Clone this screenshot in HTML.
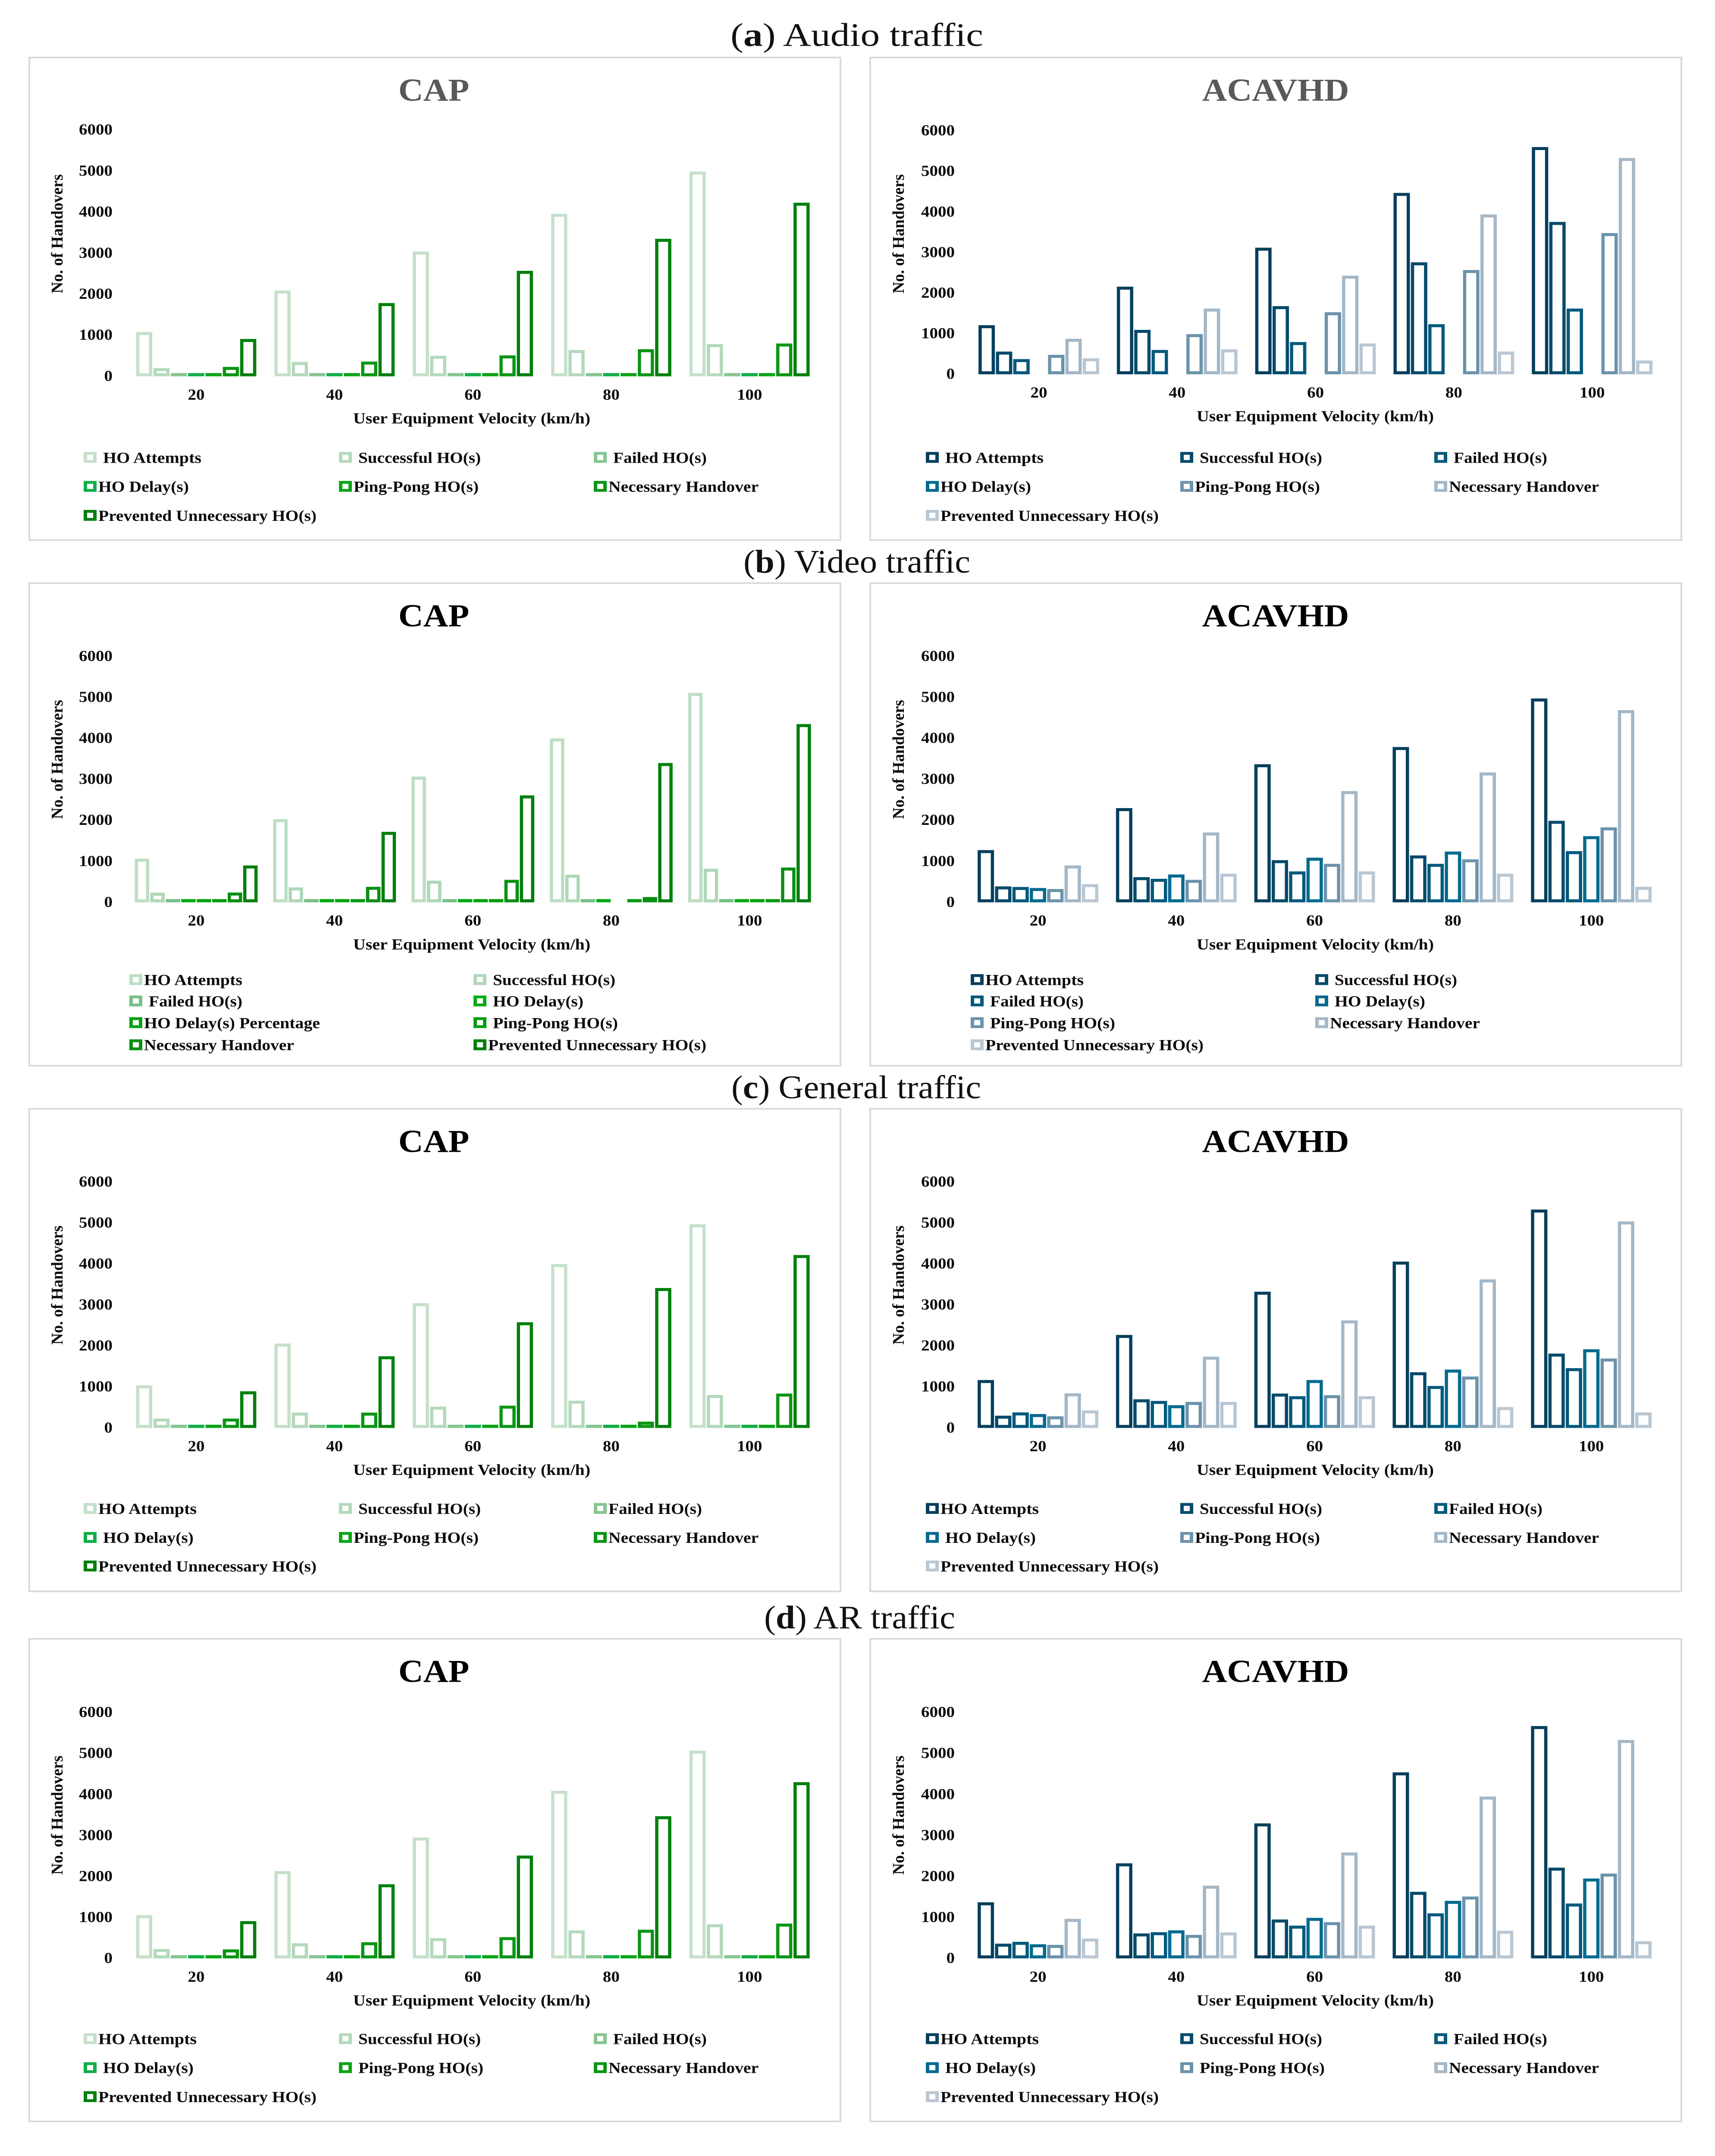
<!DOCTYPE html>
<html lang="en">
<head>
<meta charset="utf-8">
<title>Handover comparison by traffic type</title>
<style>
html,body{margin:0;padding:0;background:#fff;width:3977px;height:5357px;overflow:hidden;}
svg{display:block;width:3977px;height:5357px;overflow:hidden;}
text{font-family:"Liberation Serif",serif;}
.cap{font-size:82px;fill:#111;}
.ttl{font-size:80px;font-weight:bold;text-anchor:middle;}
.tick{font-size:39px;font-weight:bold;fill:#0c0c0c;}
.axt{font-size:38px;font-weight:bold;fill:#0c0c0c;}
.leg{font-size:38px;font-weight:bold;fill:#0c0c0c;}
</style>
</head>
<body>
<svg id="figure" xmlns="http://www.w3.org/2000/svg" width="3977" height="5357" viewBox="0 0 3977 5357" preserveAspectRatio="none">
<rect x="0" y="0" width="3977" height="5357" fill="#ffffff"/>
<text class="cap" x="1694" y="114" textLength="586" lengthAdjust="spacingAndGlyphs">(<tspan font-weight="bold">a</tspan>) Audio traffic</text>
<text class="cap" x="1724" y="1423" textLength="526" lengthAdjust="spacingAndGlyphs">(<tspan font-weight="bold">b</tspan>) Video traffic</text>
<text class="cap" x="1696" y="2729" textLength="579" lengthAdjust="spacingAndGlyphs">(<tspan font-weight="bold">c</tspan>) General traffic</text>
<text class="cap" x="1772" y="4046" textLength="443" lengthAdjust="spacingAndGlyphs">(<tspan font-weight="bold">d</tspan>) AR traffic</text>
</svg>
<script>
const categories = ['20', '40', '60', '80', '100'];
const yTickLabels = [0, 1000, 2000, 3000, 4000, 5000, 6000];
const yMax = 6000;

const audioCapAttempts = [1040, 2050, 3000, 3920, 4950];
const audioCapSuccessful = [160, 310, 460, 600, 745];
const audioCapFailed = [35, 35, 35, 35, 35];
const audioCapDelay = [35, 35, 35, 35, 35];
const audioCapPingPong = [35, 35, 35, 35, 35];
const audioCapNecessary = [190, 320, 470, 620, 760];
const audioCapPrevented = [870, 1745, 2530, 3310, 4190];

const audioAcaAttempts = [1170, 2120, 3080, 4430, 5560];
const audioAcaSuccessful = [520, 1055, 1640, 2720, 3715];
const audioAcaFailed = [335, 560, 755, 1195, 1580];
const audioAcaDelay = [null, null, null, null, null];
const audioAcaPingPong = [440, 950, 1490, 2530, 3440];
const audioAcaNecessary = [835, 1580, 2390, 3900, 5290];
const audioAcaPrevented = [355, 575, 720, 520, 300];

const videoCapAttempts = [1025, 1990, 3030, 3960, 5070];
const videoCapSuccessful = [195, 325, 490, 635, 780];
const videoCapFailed = [40, 40, 40, 40, 40];
const videoCapDelay = [40, 40, 40, 40, 40];
const videoCapDelayPct = [40, 40, 40, null, 40];
const videoCapPingPong = [40, 40, 40, 40, 40];
const videoCapNecessary = [200, 340, 510, 90, 810];
const videoCapPrevented = [860, 1680, 2570, 3360, 4310];

const videoAcaAttempts = [1235, 2260, 3330, 3750, 4935];
const videoAcaSuccessful = [350, 575, 990, 1105, 1950];
const videoAcaFailed = [335, 535, 715, 900, 1210];
const videoAcaDelay = [310, 640, 1050, 1200, 1575];
const videoAcaPingPong = [285, 510, 900, 1010, 1790];
const videoAcaNecessary = [860, 1665, 2675, 3130, 4650];
const videoAcaPrevented = [405, 660, 715, 660, 340];

const generalCapAttempts = [1000, 2020, 3005, 3960, 4930];
const generalCapSuccessful = [190, 335, 480, 625, 765];
const generalCapFailed = [35, 35, 35, 35, 35];
const generalCapDelay = [35, 35, 35, 35, 35];
const generalCapPingPong = [35, 35, 35, 35, 35];
const generalCapNecessary = [190, 335, 505, 115, 800];
const generalCapPrevented = [855, 1710, 2540, 3375, 4180];

const generalAcaAttempts = [1130, 2230, 3285, 4020, 5290];
const generalAcaSuccessful = [260, 660, 800, 1320, 1775];
const generalAcaFailed = [340, 620, 735, 985, 1420];
const generalAcaDelay = [300, 515, 1130, 1385, 1880];
const generalAcaPingPong = [245, 595, 760, 1215, 1655];
const generalAcaNecessary = [805, 1700, 2585, 3585, 5000];
const generalAcaPrevented = [390, 595, 735, 470, 340];

const arCapAttempts = [1015, 2090, 2910, 4050, 5030];
const arCapSuccessful = [190, 330, 455, 645, 795];
const arCapFailed = [35, 35, 35, 35, 35];
const arCapDelay = [35, 35, 35, 35, 35];
const arCapPingPong = [35, 35, 35, 35, 35];
const arCapNecessary = [180, 355, 480, 660, 810];
const arCapPrevented = [870, 1770, 2470, 3430, 4260];

const arAcaAttempts = [1330, 2280, 3255, 4500, 5630];
const arAcaSuccessful = [320, 570, 910, 1585, 2175];
const arAcaFailed = [365, 600, 760, 1060, 1300];
const arAcaDelay = [305, 645, 950, 1365, 1910];
const arAcaPingPong = [290, 535, 845, 1470, 2030];
const arAcaNecessary = [925, 1735, 2545, 3910, 5290];
const arAcaPrevented = [445, 595, 760, 635, 380];

const NAMES7 = ['HO Attempts', 'Successful HO(s)', 'Failed HO(s)', 'HO Delay(s)', 'Ping-Pong HO(s)', 'Necessary Handover', 'Prevented Unnecessary HO(s)'];
const NAMES8 = ['HO Attempts', 'Successful HO(s)', 'Failed HO(s)', 'HO Delay(s)', 'HO Delay(s) Percentage', 'Ping-Pong HO(s)', 'Necessary Handover', 'Prevented Unnecessary HO(s)'];
const LABEL_WIDTH = {
  'HO Attempts': 228, 'Successful HO(s)': 284, 'Failed HO(s)': 217, 'HO Delay(s)': 210,
  'HO Delay(s) Percentage': 408, 'Ping-Pong HO(s)': 290, 'Necessary Handover': 348,
  'Prevented Unnecessary HO(s)': 506
};
const GREENS7 = ['#c5e0ca', '#b3d9bc', '#86c592', '#0fae47', '#0aa516', '#0a9614', '#007f0c'];
const GREENS8 = ['#bcdec4', '#aed7b7', '#76c086', '#06ab12', '#08a312', '#089b12', '#098f12', '#007f0c'];
const BLUES7 = ['#063f5c', '#054a6b', '#03597b', '#036a8f', '#6b93ab', '#a3b7c7', '#b9c7d3'];

const T = 34, L = 45;
const GRID3 = { cols: [127, 719, 1310], rows: [993.5, 1065.5, 1137.5] };
const GRID3B = { cols: [130, 720, 1309], rows: [993.5, 1065.5, 1137.5] };

const panels = [
 { id: 'audio-cap', left: 68, top: 143, title: 'CAP', titleFill: '#595959', names: NAMES7, colors: GREENS7,
   series: [audioCapAttempts, audioCapSuccessful, audioCapFailed, audioCapDelay, audioCapPingPong, audioCapNecessary, audioCapPrevented],
   base: 790, span: 612, cx: 387, pitch: 40.2, bw: 37.5, titleX: 938, tickX: 193, xTitleX: 1026, yTitleX: 63,
   leg: GRID3, place: [[0,0,L],[1,0,L],[2,0,L],[0,1,T],[1,1,T],[2,1,T],[0,2,T]] },
 { id: 'audio-acavhd', left: 2018, top: 143, title: 'ACAVHD', titleFill: '#595959', names: NAMES7, colors: BLUES7,
   series: [audioAcaAttempts, audioAcaSuccessful, audioAcaFailed, audioAcaDelay, audioAcaPingPong, audioAcaNecessary, audioAcaPrevented],
   base: 785, span: 605, cx: 391, pitch: 40.3, bw: 38, titleX: 940, tickX: 196, xTitleX: 1032, yTitleX: 64,
   leg: GRID3B, place: [[0,0,L],[1,0,L],[2,0,L],[0,1,T],[1,1,T],[2,1,T],[0,2,T]] },
 { id: 'video-cap', left: 68, top: 1449, title: 'CAP', titleFill: '#000000', names: NAMES8, colors: GREENS8,
   series: [videoCapAttempts, videoCapSuccessful, videoCapFailed, videoCapDelay, videoCapDelayPct, videoCapPingPong, videoCapNecessary, videoCapPrevented],
   base: 791, span: 611, cx: 387, pitch: 35.9, bw: 33.5, titleX: 938, tickX: 193, xTitleX: 1026, yTitleX: 63,
   leg: { cols: [233, 1031], rows: [985, 1038, 1092, 1147] }, place: [[0,0,T],[1,0,L],[0,1,L],[1,1,L],[0,2,T],[1,2,L],[0,3,T],[1,3,T]] },
 { id: 'video-acavhd', left: 2018, top: 1449, title: 'ACAVHD', titleFill: '#000000', names: NAMES7, colors: BLUES7,
   series: [videoAcaAttempts, videoAcaSuccessful, videoAcaFailed, videoAcaDelay, videoAcaPingPong, videoAcaNecessary, videoAcaPrevented],
   base: 791, span: 611, cx: 389, pitch: 40.3, bw: 38, titleX: 940, tickX: 196, xTitleX: 1032, yTitleX: 64,
   leg: { cols: [234, 1033], rows: [985, 1038, 1092, 1147] }, place: [[0,0,T],[1,0,L],[0,1,L],[1,1,L],[0,2,L],[1,2,T],[0,3,T]] },
 { id: 'general-cap', left: 68, top: 2755, title: 'CAP', titleFill: '#000000', names: NAMES7, colors: GREENS7,
   series: [generalCapAttempts, generalCapSuccessful, generalCapFailed, generalCapDelay, generalCapPingPong, generalCapNecessary, generalCapPrevented],
   base: 791, span: 611, cx: 387, pitch: 40.2, bw: 37.5, titleX: 938, tickX: 193, xTitleX: 1026, yTitleX: 63,
   leg: { cols: GRID3.cols, rows: [993, 1065, 1136] }, place: [[0,0,T],[1,0,L],[2,0,T],[0,1,L],[1,1,T],[2,1,T],[0,2,T]] },
 { id: 'general-acavhd', left: 2018, top: 2755, title: 'ACAVHD', titleFill: '#000000', names: NAMES7, colors: BLUES7,
   series: [generalAcaAttempts, generalAcaSuccessful, generalAcaFailed, generalAcaDelay, generalAcaPingPong, generalAcaNecessary, generalAcaPrevented],
   base: 791, span: 611, cx: 389, pitch: 40.3, bw: 38, titleX: 940, tickX: 196, xTitleX: 1032, yTitleX: 64,
   leg: { cols: GRID3B.cols, rows: [993, 1065, 1136] }, place: [[0,0,T],[1,0,L],[2,0,T],[0,1,L],[1,1,T],[2,1,T],[0,2,T]] },
 { id: 'ar-cap', left: 68, top: 4072, title: 'CAP', titleFill: '#000000', names: NAMES7, colors: GREENS7,
   series: [arCapAttempts, arCapSuccessful, arCapFailed, arCapDelay, arCapPingPong, arCapNecessary, arCapPrevented],
   base: 792, span: 611, cx: 387, pitch: 40.2, bw: 37.5, titleX: 938, tickX: 193, xTitleX: 1026, yTitleX: 63,
   leg: GRID3, place: [[0,0,T],[1,0,L],[2,0,L],[0,1,L],[1,1,L],[2,1,T],[0,2,T]] },
 { id: 'ar-acavhd', left: 2018, top: 4072, title: 'ACAVHD', titleFill: '#000000', names: NAMES7, colors: BLUES7,
   series: [arAcaAttempts, arAcaSuccessful, arAcaFailed, arAcaDelay, arAcaPingPong, arAcaNecessary, arAcaPrevented],
   base: 792, span: 611, cx: 389, pitch: 40.3, bw: 38, titleX: 940, tickX: 196, xTitleX: 1032, yTitleX: 64,
   leg: GRID3B, place: [[0,0,T],[1,0,L],[2,0,L],[0,1,L],[1,1,L],[2,1,T],[0,2,T]] }
];

const NS = 'http://www.w3.org/2000/svg';
const root = document.getElementById('figure');
const GROUP_STEP = 320.8;
const STROKE_X = 7.5;
const STROKE_Y = 7.5;
const BAR_PAD = 2;
const MIN_BAR = 8;

function mk(tag, attrs, parent) {
  const n = document.createElementNS(NS, tag);
  for (const k in attrs) n.setAttribute(k, attrs[k]);
  parent.appendChild(n);
  return n;
}
function slug(s) {
  return s.toLowerCase().replace(/[^a-z0-9]+/g, '-').replace(/^-|-$/g, '');
}

panels.forEach(function (p) {
  const g = mk('g', { transform: 'translate(' + p.left + ' ' + p.top + ')' }, root);
  
  

  const frame = mk('rect', { x: 0, y: 0, width: 1881, height: 1199, fill: '#ffffff', stroke: '#d9d9d9', 'stroke-width': 4 }, g);
  
  

  const title = mk('text', { class: 'ttl', x: p.titleX, y: 107, fill: p.titleFill }, g);
  title.textContent = p.title;
  
  

  const yPos = function (v) { return p.base - (v / yMax) * p.span; };
  const xCenter = function (c) { return p.cx + c * GROUP_STEP; };

  yTickLabels.forEach(function (t) {
    const tx = mk('text', { class: 'tick', x: p.tickX, y: yPos(t) + 13.5, 'text-anchor': 'end' }, g);
    tx.textContent = String(t);
    
    
  });

  categories.forEach(function (c, ci) {
    const tx = mk('text', { class: 'tick', x: xCenter(ci), y: p.base + 60, 'text-anchor': 'middle' }, g);
    tx.textContent = c;
    
    
  });

  const n = p.series.length;
  p.series.forEach(function (vals, si) {
    vals.forEach(function (v, ci) {
      if (v === null) return;
      const x = xCenter(ci) + (si - (n - 1) / 2) * p.pitch - p.bw / 2;
      const bottom = p.base + BAR_PAD;
      const h = Math.max(bottom - (yPos(v) - BAR_PAD), MIN_BAR);
      const y = bottom - h;
      const bar = mk('rect', { x: x, y: y, width: p.bw, height: h, fill: p.colors[si] }, g);
      
      
      const innerH = h - 2 * STROKE_Y;
      if (innerH > 0) {
        const inner = mk('rect', { x: x + STROKE_X, y: y + STROKE_Y, width: p.bw - 2 * STROKE_X, height: innerH, fill: '#ffffff' }, g);
        
        
      }
    });
  });

  const xt = mk('text', { class: 'axt', x: p.xTitleX, y: p.base + 119, 'text-anchor': 'middle', textLength: 550, lengthAdjust: 'spacingAndGlyphs' }, g);
  xt.textContent = 'User Equipment Velocity (km/h)';
  
  

  const yt = mk('text', { class: 'axt', transform: 'translate(' + (p.yTitleX + 14) + ' 438) rotate(-90)', x: 0, y: 0, 'text-anchor': 'middle', textLength: 296, lengthAdjust: 'spacingAndGlyphs' }, g);
  yt.textContent = 'No. of Handovers';
  
  

  p.names.forEach(function (name, i) {
    const pos = p.place[i];
    const lx = p.leg.cols[pos[0]] - 1;
    const ly = p.leg.rows[pos[1]];
    const sw = mk('rect', { x: lx, y: ly - 13.5, width: 30, height: 27, fill: p.colors[i] }, g);
    
    
    const hole = mk('rect', { x: lx + 8, y: ly - 6.5, width: 14, height: 13, fill: '#ffffff' }, g);
    
    
    const lab = mk('text', { class: 'leg', x: lx + pos[2], y: ly + 13.5, textLength: LABEL_WIDTH[name], lengthAdjust: 'spacingAndGlyphs' }, g);
    lab.textContent = name;
    
    
  });
});

const frameHeight = window.innerHeight;
if (frameHeight >= 4500 && frameHeight < 5357) {
  document.documentElement.style.height = frameHeight + 'px';
  document.body.style.height = frameHeight + 'px';
  root.style.height = frameHeight + 'px';
  root.setAttribute('height', frameHeight);
}
</script>
</body>
</html>
